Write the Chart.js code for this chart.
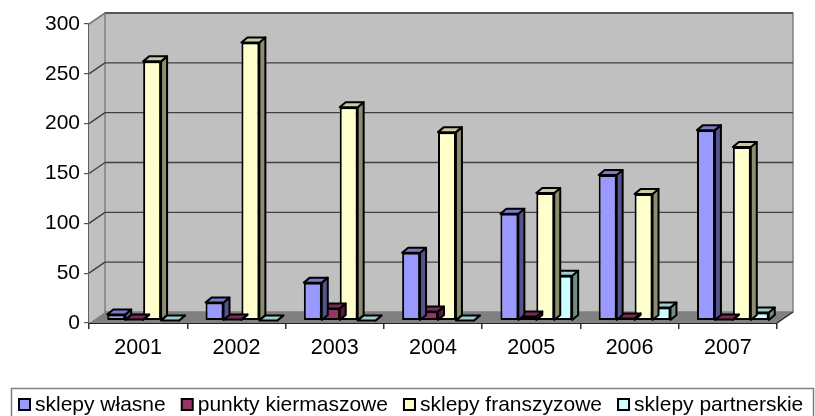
<!DOCTYPE html>
<html>
<head>
<meta charset="utf-8">
<script src="https://cdn.jsdelivr.net/npm/chart.js@4/dist/chart.umd.min.js"></script>
<style>
  body { margin: 0; background: #fff; }
  #wrap { width: 815px; height: 416px; }
</style>
</head>
<body>
<div id="wrap"><canvas id="myChart" width="815" height="416"></canvas></div>
<script>
// data
const years = ["2001", "2002", "2003", "2004", "2005", "2006", "2007"];
const sklepyWlasne = [6, 18, 38, 68, 107, 146, 191];
const punktyKiermaszowe = [1, 1, 12, 9, 4, 2, 1];
const sklepyFranszyzowe = [260, 279, 214, 189, 128, 127, 174];
const sklepyPartnerskie = [0, 0, 0, 0, 45, 13, 8];
const seriesNames = ["sklepy własne", "punkty kiermaszowe", "sklepy franszyzowe", "sklepy partnerskie"];
const seriesColors = ["#9999FF", "#993366", "#FFFFCC", "#CCFFFF"];
const yMax = 300;
const yStep = 50;

const FONT = '"Liberation Sans", Arial, sans-serif';
const WALL = { dx: 16, dy: -11 };   // depth of back wall
const BAR = { dx: 6, dy: -5 };      // depth of a bar
const SHIFT = { x: 5, y: -2.5 };    // bars sit a bit behind the front plane

function shade(hex, f) {
  const n = parseInt(hex.slice(1), 16);
  const r = Math.round(((n >> 16) & 255) * f);
  const g = Math.round(((n >> 8) & 255) * f);
  const b = Math.round((n & 255) * f);
  return "rgb(" + r + "," + g + "," + b + ")";
}

function poly(ctx, pts, fill, stroke, lw) {
  ctx.beginPath();
  ctx.moveTo(pts[0][0], pts[0][1]);
  for (let i = 1; i < pts.length; i++) ctx.lineTo(pts[i][0], pts[i][1]);
  ctx.closePath();
  if (fill) { ctx.fillStyle = fill; ctx.fill(); }
  if (stroke) { ctx.strokeStyle = stroke; ctx.lineWidth = lw || 1; ctx.lineJoin = "round"; ctx.stroke(); }
}

// walls, floor and gridlines of the 3d box
const wallsPlugin = {
  id: "walls",
  beforeDatasetsDraw(chart) {
    const ctx = chart.ctx;
    const a = chart.chartArea;
    const y = chart.scales.y;
    const L = a.left, R = a.right, T = a.top, B = a.bottom;
    const dx = WALL.dx, dy = WALL.dy;
    ctx.save();
    // side wall
    poly(ctx, [[L, T], [L + dx, T + dy], [L + dx, B + dy], [L, B]], "#c0c0c0");
    // back wall
    poly(ctx, [[L + dx, T + dy], [R + dx, T + dy], [R + dx, B + dy], [L + dx, B + dy]], "#c0c0c0", "#808080", 1.5);
    // gridlines
    ctx.strokeStyle = "#404040";
    ctx.lineWidth = 1.4;
    y.ticks.forEach(t => {
      if (t.value === 0) return;
      const py = y.getPixelForValue(t.value);
      ctx.beginPath();
      ctx.moveTo(L, py);
      ctx.lineTo(L + dx, py + dy);
      ctx.lineTo(R + dx, py + dy);
      ctx.stroke();
    });
    // side wall top edge
    ctx.strokeStyle = "#808080";
    ctx.lineWidth = 1.5;
    ctx.beginPath();
    ctx.moveTo(L, T);
    ctx.lineTo(L + dx, T + dy);
    ctx.stroke();
    // floor
    poly(ctx, [[L, B], [R, B], [R + dx, B + dy], [L + dx, B + dy]], "#808080");
    ctx.strokeStyle = "#202020";
    ctx.lineWidth = 1.2;
    ctx.beginPath();
    ctx.moveTo(R, B);
    ctx.lineTo(R + dx, B + dy);
    ctx.stroke();
    ctx.restore();

    ctx.save();
    ctx.translate(SHIFT.x, SHIFT.y);
  },
  afterDatasetDraw(chart, args) {
    const ctx = chart.ctx;
    const ds = chart.data.datasets[args.index];
    const front = ds.backgroundColor;
    args.meta.data.forEach(bar => {
      const p = bar.getProps(["x", "y", "base", "width"], true);
      const l = p.x - p.width / 2, r = p.x + p.width / 2;
      const top = Math.min(p.y, p.base), base = Math.max(p.y, p.base);
      // side
      poly(ctx, [[r, top], [r + BAR.dx, top + BAR.dy], [r + BAR.dx, base + BAR.dy], [r, base]],
        shade(front, 0.55), "#000", 2);
      // top
      poly(ctx, [[l, top], [l + BAR.dx, top + BAR.dy], [r + BAR.dx, top + BAR.dy], [r, top]],
        shade(front, 0.8), "#000", 2);
    });
  },
  afterDatasetsDraw(chart) {
    chart.ctx.restore();
  }
};

// boxed legend under the chart
const legendPlugin = {
  id: "boxLegend",
  afterDraw(chart) {
    const ctx = chart.ctx;
    ctx.save();
    ctx.strokeStyle = "#808080";
    ctx.lineWidth = 1.5;
    ctx.strokeRect(11.5, 388.5, 802, 40);
    ctx.font = "21px " + FONT;
    ctx.textBaseline = "middle";
    let x = 19;
    chart.data.datasets.forEach(ds => {
      ctx.fillStyle = ds.backgroundColor;
      ctx.fillRect(x, 399, 11, 11);
      ctx.strokeStyle = "#000";
      ctx.lineWidth = 2;
      ctx.strokeRect(x, 399, 11, 11);
      ctx.fillStyle = "#000";
      ctx.fillText(ds.label, x + 16, 405);
      x += 16 + ctx.measureText(ds.label).width + 16;
    });
    ctx.restore();
  }
};

const values = [sklepyWlasne, punktyKiermaszowe, sklepyFranszyzowe, sklepyPartnerskie];
const ctx = document.getElementById("myChart").getContext("2d");
const myChart = new Chart(ctx, {
  type: "bar",
  data: {
    labels: years,
    datasets: seriesNames.map((name, i) => ({
      label: name,
      data: values[i],
      backgroundColor: seriesColors[i],
      borderColor: "#000",
      borderWidth: 2,
      borderSkipped: false,
      barPercentage: 1,
      categoryPercentage: 0.73,
      clip: false
    }))
  },
  options: {
    responsive: false,
    animation: false,
    layout: { padding: { top: 24, right: 38, left: 0, bottom: 0 } },
    plugins: { legend: { display: false }, tooltip: { enabled: false } },
    scales: {
      x: {
        afterFit(s) { s.height = 93; },
        grid: { offset: true, drawOnChartArea: false, tickLength: 6, color: "#333", lineWidth: 1.5 },
        border: { color: "#222", width: 2 },
        ticks: { color: "#000", font: { family: FONT, size: 21.5 }, padding: 6 }
      },
      y: {
        min: 0,
        max: yMax,
        afterFit(s) { s.width = 89; },
        grid: { drawOnChartArea: false, tickLength: 5, color: "#555", lineWidth: 1.2 },
        border: { color: "#606060", width: 2 },
        ticks: { stepSize: yStep, color: "#000", font: { family: FONT, size: 21 }, padding: 4 }
      }
    }
  },
  plugins: [wallsPlugin, legendPlugin]
});
</script>
</body>
</html>
